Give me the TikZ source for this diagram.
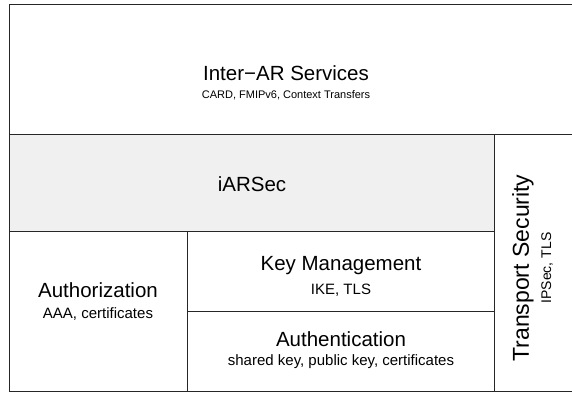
\documentclass[tikz,border=0pt]{standalone}
\usepackage{fontspec}
\setmainfont{Liberation Sans}

\begin{document}
\begin{tikzpicture}[x=1pt, y=-1pt,
	layer/.style={draw=black!85, line width=1pt},
	head/.style={font=\fontsize{20.5}{24}\selectfont},
	sub/.style={font=\fontsize{15}{18}\selectfont},
	small/.style={font=\fontsize{11}{13}\selectfont}]
	\useasboundingbox (0, 0) rectangle (572, 392);
	\clip (0, 0) rectangle (572, 392);

	\draw[layer]              (9.5, 4.3)   rectangle (580, 134);
	\draw[layer, fill=black!6] (9.5, 134)  rectangle (494, 231);
	\draw[layer]              (494, 134)   rectangle (580, 391.5);
	\draw[layer]              (9.5, 231)   rectangle (187.3, 391.5);
	\draw[layer]              (187.3, 231) rectangle (494, 311.3);
	\draw[layer]              (187.3, 311.3) rectangle (494, 391.5);

	\node[head]  (services)  at (286, 73)  {Inter−AR Services};
	\node[small] (servicesx) at (286, 95)  {CARD, FMIPv6, Context Transfers};
	\node[head] (iarsec)     at (252, 184) {iARSec};
	\node[head] (authz)      at (98, 290)  {Authorization};
	\node[sub]  (authzx)     at (98, 314)  {AAA, certificates};
	\node[head] (keymgmt)    at (341, 266) {Key Management};
	\node[sub]  (keymgmtx)   at (341, 290) {IKE, TLS};
	\node[head] (authn)      at (341, 339) {Authentication};
	\node[sub]  (authnx)     at (341, 362) {shared key, public key, certificates};
	\node[head, font=\fontsize{23}{26}\selectfont, rotate=90]
		(transport)  at (523, 268) {Transport Security};
	\node[sub, font=\fontsize{14}{16}\selectfont, rotate=90]
		(transportx) at (547, 268) {IPSec, TLS};
\end{tikzpicture}
\end{document}
